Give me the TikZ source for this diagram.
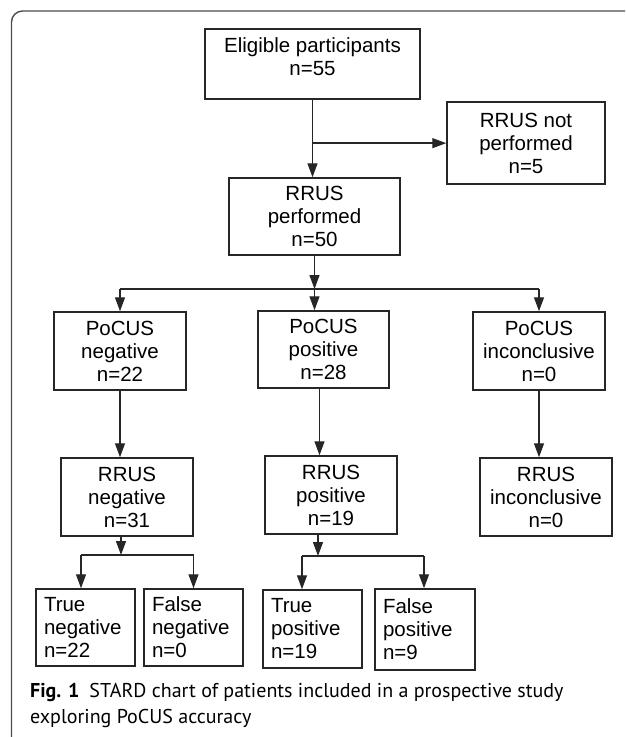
\documentclass[tikz,border=0pt]{standalone}
\usepackage{fontspec}
\setmainfont{Liberation Sans}
\newfontfamily\capfont{PT Sans}
\usetikzlibrary{arrows.meta,calc}
\begin{document}
\begin{tikzpicture}[x=1pt,y=-1pt,
  box/.style={draw=black!85, line width=1.5pt, rectangle, align=center, inner sep=0pt,
    font=\fontsize{20.5}{23}\selectfont},
  leaf/.style={box, align=left, inner xsep=8pt},
  arr/.style={line width=1.4pt, draw=black!85, -{Triangle[length=14pt,width=10pt]}},
  ln/.style={line width=1.4pt, draw=black!85},
  framestyle/.style={draw=black!70, line width=1.4pt, rounded corners=11pt},
  captext/.style={anchor=base west, inner sep=0pt, font=\capfont\fontsize{20}{24}\selectfont}]
\useasboundingbox (0,0) rectangle (625,737);
\draw[framestyle] (11.5,737) -- (11.5,11) -- (625,11);
% boxes
\node[box, minimum width=215pt, minimum height=70pt, text depth=14pt] (elig) at (312.5,64) {Eligible participants\\n=55};
\node[box, minimum width=158pt, minimum height=82pt] (notperf) at (526,143) {RRUS not\\performed\\n=5};
\node[box, minimum width=171pt, minimum height=77pt] (perf) at (314.5,216.5) {RRUS\\performed\\n=50};
\node[box, minimum width=132pt, minimum height=78pt] (pneg) at (120,351) {PoCUS\\negative\\n=22};
\node[box, minimum width=131pt, minimum height=77pt] (ppos) at (323.5,349.5) {PoCUS\\positive\\n=28};
\node[box, minimum width=132pt, minimum height=78pt] (pinc) at (539,351) {PoCUS\\inconclusive\\n=0};
\node[box, minimum width=132pt, minimum height=78pt] (rneg) at (127,497) {RRUS\\negative\\n=31};
\node[box, minimum width=132pt, minimum height=78pt] (rpos) at (331,495) {RRUS\\positive\\n=19};
\node[box, minimum width=132pt, minimum height=78pt] (rinc) at (546,497) {RRUS\\inconclusive\\n=0};
\node[leaf, text width=83pt, minimum height=77pt] (tneg) at (85.5,627.5) {True\\negative\\n=22};
\node[leaf, text width=83pt, minimum height=77pt] (fneg) at (193.5,627.5) {False\\negative\\n=0};
\node[leaf, text width=83pt, minimum height=78pt] (tpos) at (312.5,629) {True\\positive\\n=19};
\node[leaf, text width=84pt, minimum height=81pt] (fpos) at (425,629.5) {False\\positive\\n=9};
% connectors
\draw[arr] (elig.south) -- (elig.south |- perf.north);
\coordinate (b1) at ($(elig.south)!0.56!(elig.south |- perf.north)$);
\draw[arr] (b1) -- (b1 -| notperf.west);
\coordinate (j1) at (314.5,289);
\coordinate (j1l) at (120,289);
\coordinate (j1r) at (539,289);
\draw[arr] (perf.south) -- (j1);
\draw[ln] (j1l) -- (j1r);
\draw[arr] (j1l) -- (j1l |- pneg.north);
\draw[arr] (j1) -- (j1 |- ppos.north);
\draw[arr] (j1r) -- (j1r |- pinc.north);
\draw[arr] (pneg.south) -- (pneg.south |- rneg.north);
\draw[arr] ([xshift=-4pt]ppos.south) -- ([xshift=-4pt]ppos.south |- rpos.north);
\draw[arr] (pinc.south) -- (pinc.south |- rinc.north);
\coordinate (j2) at (121,555);
\coordinate (j2l) at (81,555);
\coordinate (j2r) at (193.5,555);
\draw[arr] (j2 |- rneg.south) -- (j2);
\draw[ln] (j2l) -- (j2r);
\draw[arr] (j2l) -- (j2l |- tneg.north);
\draw[arr] (j2r) -- (j2r |- fneg.north);
\coordinate (j3) at (318,556);
\coordinate (j3l) at (302,556);
\coordinate (j3r) at (424,556);
\draw[arr] (j3 |- rpos.south) -- (j3);
\draw[ln] (j3l) -- (j3r);
\draw[arr] (j3l) -- (j3l |- tpos.north);
\draw[arr] (j3r) -- (j3r |- fpos.north);
% caption
\node[captext] (cap1) at (30,697) {\textbf{Fig. 1}\hspace{10pt}STARD chart of patients included in a prospective study};
\node[captext] (cap2) at (30,723) {exploring PoCUS accuracy};
\end{tikzpicture}
\end{document}
